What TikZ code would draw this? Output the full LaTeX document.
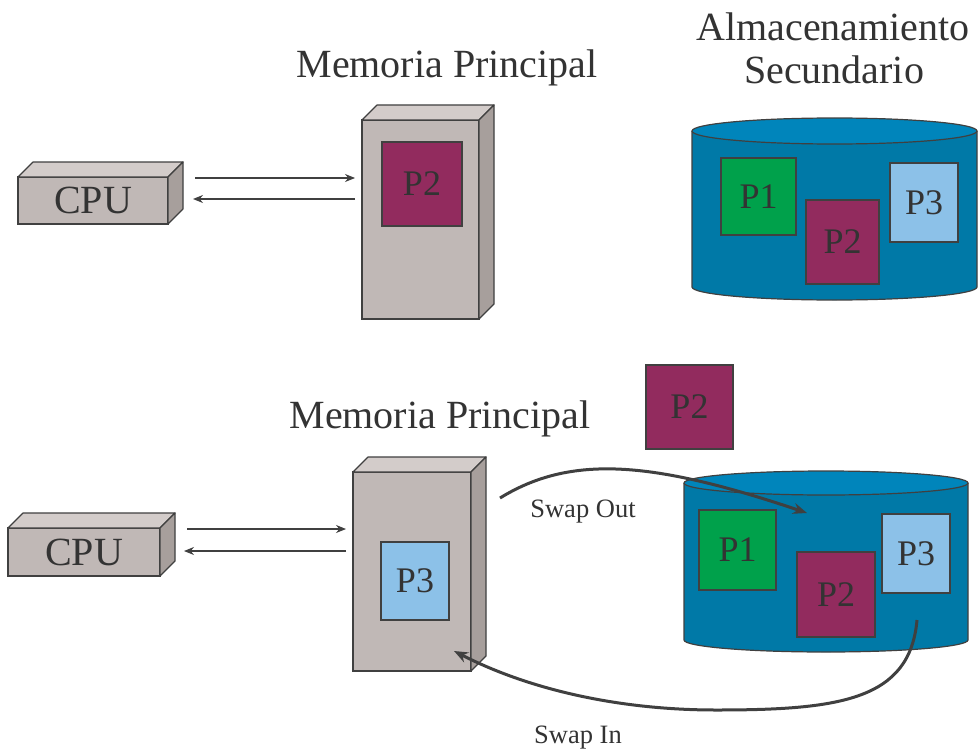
\documentclass[tikz,border=0pt]{standalone}
\usepackage{fontspec}
\setmainfont{Liberation Serif}
\usetikzlibrary{arrows.meta}
\definecolor{txt}{HTML}{333333}
\definecolor{edge}{HTML}{404040}
\definecolor{boxfront}{HTML}{C0B8B6}
\definecolor{boxtop}{HTML}{D3CCCA}
\definecolor{boxside}{HTML}{A79F9C}
\definecolor{diskbody}{HTML}{0079A7}
\definecolor{disktop}{HTML}{0085BB}
\definecolor{pone}{HTML}{00A14B}
\definecolor{ptwo}{HTML}{922B5E}
\definecolor{pthree}{HTML}{8CC1E8}
\tikzset{
 front/.style={draw=edge, fill=boxfront, line width=1.2pt, inner sep=0pt, outer sep=0pt, anchor=north west, text=txt, font=\fontsize{40}{44}\selectfont},
 topface/.style={draw=edge, fill=boxtop, line width=1.2pt, line join=round},
 sideface/.style={draw=edge, fill=boxside, line width=1.2pt, line join=round},
 proc/.style={draw=edge, line width=1.2pt, inner sep=0pt, outer sep=0pt, anchor=north west, text=txt, font=\fontsize{36}{40}\selectfont},
 title/.style={text=txt, font=\fontsize{40}{46}\selectfont, anchor=base},
 swaplabel/.style={text=txt, font=\fontsize{26.5}{30}\selectfont, anchor=base},
 thinarrow/.style={draw=edge, line width=1.1pt, -{Stealth[length=10pt,width=8pt]}},
 swaparrow/.style={draw=edge, line width=3pt, -{Stealth[length=14pt,width=11pt]}},
 diskline/.style={draw=edge, line width=1.2pt},
}
% name, x1, y1, x2, y2, text
\newcommand\threedbox[6]{%
 \pgfmathsetmacro\bw{#4-#2}\pgfmathsetmacro\bh{#5-#3}%
 \node[front, minimum width=\bw pt, minimum height=\bh pt] (#1) at (#2,#3) {#6};
 \filldraw[topface] (#1.north west) -- ++(15,-15) -- ([shift={(15,-15)}]#1.north east) -- (#1.north east) -- cycle;
 \filldraw[sideface] (#1.north east) -- ++(15,-15) -- ([shift={(15,-15)}]#1.south east) -- (#1.south east) -- cycle;
}
% name, colour, x1, y1, x2, y2, text
\newcommand\procbox[7]{%
 \pgfmathsetmacro\bw{#5-#3}\pgfmathsetmacro\bh{#6-#4}%
 \node[proc, fill=#2, minimum width=\bw pt, minimum height=\bh pt] (#1) at (#3,#4) {#7};
}
% name, left, top y, right, bottom y, y radius
\newcommand\disk[6]{%
 \pgfmathsetmacro\rx{(#4-#2)/2}\pgfmathsetmacro\cx{(#4+#2)/2}%
 \fill[diskbody] (#2,#3) -- (#2,#5) arc[start angle=180,end angle=360,x radius=\rx pt,y radius=#6pt] -- (#4,#3) -- cycle;
 \draw[diskline] (#2,#3) -- (#2,#5) arc[start angle=180,end angle=360,x radius=\rx pt,y radius=#6pt] -- (#4,#3);
 \filldraw[diskline, fill=disktop] (\cx,#3) ellipse[x radius=\rx pt, y radius=#6pt];
 \coordinate (#1) at (\cx,#3);
}
\begin{document}
\begin{tikzpicture}[x=1pt,y=-1pt]
\useasboundingbox (0,0) rectangle (979,749);
\fill[white] (0,0) rectangle (979,749);

% ---------- top scene ----------
\node[title] (memtitleA) at (447,78) {Memoria Principal};
\node[title] (almA) at (833,41) {Almacenamiento};
\node[title] (secA) at (834,84) {Secundario};

\threedbox{cpuA}{18}{177}{168}{224}{CPU}
\threedbox{memA}{362}{120}{479}{319}{}
\procbox{memAp2}{ptwo}{382}{142}{462}{226}{P2}

\coordinate (a1s) at (195,178);
\coordinate (a1e) at (355,178);
\coordinate (a2s) at (355,199);
\coordinate (a2e) at (193,199);
\draw[thinarrow] (a1s) -- (a1e);
\draw[thinarrow] (a2s) -- (a2e);

\disk{diskA}{692}{131}{977}{287}{13}
\procbox{diskAp1}{pone}{721}{158}{796}{235}{P1}
\procbox{diskAp2}{ptwo}{806}{200}{879}{284}{P2}
\procbox{diskAp3}{pthree}{890}{163}{958}{242}{P3}

% ---------- bottom scene ----------
\node[title] (memtitleB) at (440,428) {Memoria Principal};
\procbox{floatp2}{ptwo}{646}{365}{733}{449}{P2}

\threedbox{cpuB}{8}{528}{160}{576}{CPU}
\threedbox{memB}{353}{472}{471}{671}{}
\procbox{memBp3}{pthree}{381}{542}{449}{620}{P3}

\coordinate (b1s) at (187,529);
\coordinate (b1e) at (346,529);
\coordinate (b2s) at (346,551);
\coordinate (b2e) at (184,551);
\draw[thinarrow] (b1s) -- (b1e);
\draw[thinarrow] (b2s) -- (b2e);

\disk{diskB}{684}{483}{968}{640}{12}
\procbox{diskBp1}{pone}{699}{510}{776}{590}{P1}
\procbox{diskBp2}{ptwo}{797}{552}{875}{637}{P2}
\procbox{diskBp3}{pthree}{882}{514}{950}{593}{P3}

\coordinate (soS) at (500,498);
\coordinate (soE) at (807,513);
\draw[swaparrow] (soS) .. controls (570,455) and (650,460) .. (soE);
\node[swaplabel] (swapout) at (583,517) {Swap Out};

\coordinate (siS) at (917,620);
\coordinate (siM) at (716,710);
\coordinate (siE) at (454,651);
\draw[swaparrow] (siS) .. controls (910,700) and (840,710) .. (siM) .. controls (620,710) and (530,690) .. (siE);
\node[swaplabel] (swapin) at (578,743) {Swap In};
\end{tikzpicture}
\end{document}
